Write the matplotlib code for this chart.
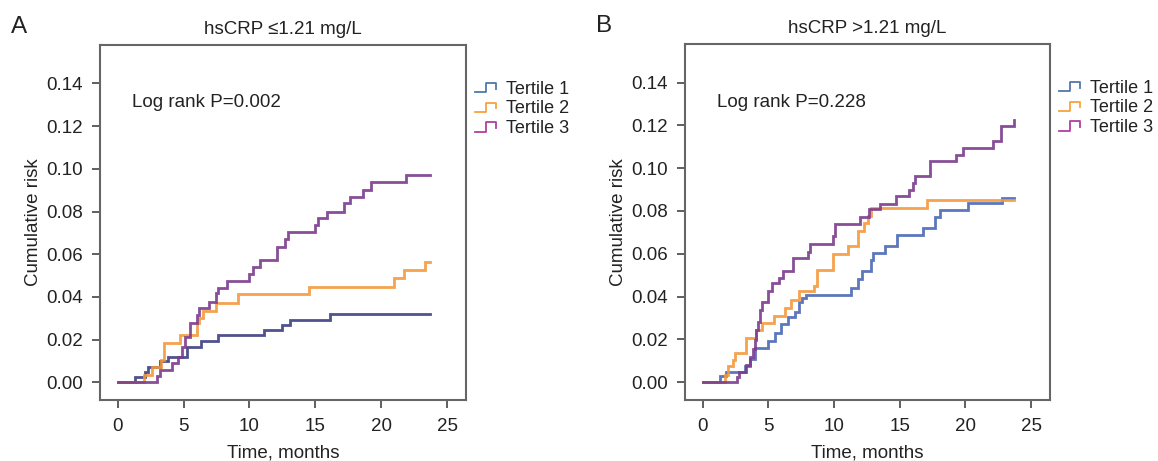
import matplotlib.pyplot as plt
from matplotlib.lines import Line2D
from matplotlib.legend_handler import HandlerBase

plt.rcParams['font.family'] = ['Liberation Sans', 'DejaVu Sans']

# ---- data ----
labels = ['Tertile 1', 'Tertile 2', 'Tertile 3']

# panel A: hsCRP <= 1.21 mg/L
a_t1_time = [0, 1.3, 2.1, 2.3, 3.2, 3.8, 5.3, 6.3, 7.6, 11.1, 12.5, 13.1, 16.1, 23.7]
a_t1_risk = [0, 0.0025, 0.0048, 0.007, 0.0098, 0.012, 0.0166, 0.0193, 0.022, 0.0244, 0.0268, 0.029, 0.0318, 0.0318]
a_t2_time = [0, 2.0, 2.6, 3.3, 3.5, 4.7, 6.0, 6.2, 6.5, 7.5, 9.1, 14.5, 21.0, 21.7, 23.3, 23.7]
a_t2_risk = [0, 0.0032, 0.0072, 0.0106, 0.0184, 0.0223, 0.028, 0.030, 0.0335, 0.0373, 0.0413, 0.0448, 0.0487, 0.0526, 0.0565, 0.0565]
a_t3_time = [0, 3.0, 3.2, 4.1, 4.6, 4.9, 5.1, 5.5, 6.0, 6.2, 6.9, 7.5, 7.6, 8.3, 10.0, 10.3, 10.8,
             12.1, 12.7, 12.9, 15.0, 15.2, 15.9, 17.2, 17.6, 18.6, 19.2, 21.9, 23.7]
a_t3_risk = [0, 0.0028, 0.0056, 0.0088, 0.0119, 0.0166, 0.0213, 0.0279, 0.0315, 0.0346, 0.0377, 0.0417, 0.044,
             0.0474, 0.0506, 0.0538, 0.0573, 0.0636, 0.0672, 0.0706, 0.0738, 0.0769, 0.080, 0.084, 0.087,
             0.090, 0.0936, 0.0972, 0.0972]

# panel B: hsCRP > 1.21 mg/L
b_t1_time = [0, 1.3, 1.8, 3.2, 3.6, 4.0, 5.0, 5.5, 6.0, 6.5, 7.0, 7.3, 7.6, 7.9, 11.3, 11.8, 12.1,
             12.8, 13.0, 13.9, 14.8, 16.8, 17.7, 18.1, 20.2, 22.8, 23.7]
b_t1_risk = [0, 0.0028, 0.0049, 0.0075, 0.011, 0.016, 0.0193, 0.0232, 0.0271, 0.0304, 0.033, 0.0373, 0.0393,
             0.0409, 0.044, 0.0482, 0.0521, 0.0573, 0.0605, 0.0636, 0.069, 0.0722, 0.0774, 0.0803, 0.0835,
             0.086, 0.086]
b_t2_time = [0, 1.7, 1.95, 2.3, 2.5, 3.3, 4.1, 4.5, 5.4, 6.3, 6.7, 7.3, 8.5, 8.7, 9.9, 11.1, 11.8,
             12.3, 12.6, 12.8, 17.1, 23.7]
b_t2_risk = [0, 0.0033, 0.0075, 0.0106, 0.0138, 0.0205, 0.0244, 0.0276, 0.031, 0.0346, 0.0385, 0.0424,
             0.0451, 0.0526, 0.0597, 0.0636, 0.0706, 0.0746, 0.0777, 0.0816, 0.0852, 0.0852]
b_t3_time = [0, 2.6, 2.8, 3.3, 3.6, 3.8, 3.95, 4.1, 4.2, 4.4, 4.5, 4.95, 5.3, 5.8, 6.15, 6.9, 8.0,
             8.2, 9.9, 10.1, 12.0, 12.7, 13.5, 14.7, 15.7, 16.0, 16.2, 17.3, 19.3, 19.8, 22.1, 22.7, 23.7]
b_t3_risk = [0, 0.0025, 0.0049, 0.008, 0.0119, 0.0154, 0.0197, 0.0244, 0.0283, 0.0338, 0.0373, 0.0424,
             0.0463, 0.0487, 0.0518, 0.0581, 0.0607, 0.0644, 0.0683, 0.0738, 0.0774, 0.0808, 0.0832,
             0.0868, 0.090, 0.0933, 0.0965, 0.1035, 0.1062, 0.1093, 0.1129, 0.1195, 0.1223]

a_colors = ['#3d3f82', '#f5993a', '#7b3b8c']
b_colors = ['#4a68b4', '#f5993a', '#7b3b8c']
legend_colors = ['#4f78ad', '#f5a23c', '#b0409f']

FS = 13.5


class StepHandler(HandlerBase):
    # draws the little step glyph used in the legend
    def create_artists(self, legend, orig_handle, xdescent, ydescent, width, height, fontsize, trans):
        x0 = -xdescent
        y0 = -ydescent
        xs = [x0, x0 + 0.45 * width, x0 + 0.45 * width, x0 + 0.9 * width, x0 + 0.9 * width]
        ys = [y0 + 0.1 * height, y0 + 0.1 * height, y0 + 0.85 * height, y0 + 0.85 * height, y0 + 0.4 * height]
        line = Line2D(xs, ys, color=orig_handle.get_color(), lw=1.3, transform=trans)
        return [line]


fig = plt.figure(figsize=(11.58, 4.61), dpi=100)
ax_a = fig.add_axes([100 / 1158, 1 - 400 / 461, 366 / 1158, 355 / 461])
ax_b = fig.add_axes([685 / 1158, 1 - 400 / 461, 365 / 1158, 356 / 461])

panels = [
    (ax_a, 'A', 'hsCRP \u22641.21 mg/L', 'Log rank P=0.002', a_colors,
     [(a_t1_time, a_t1_risk), (a_t2_time, a_t2_risk), (a_t3_time, a_t3_risk)]),
    (ax_b, 'B', 'hsCRP >1.21 mg/L', 'Log rank P=0.228', b_colors,
     [(b_t1_time, b_t1_risk), (b_t2_time, b_t2_risk), (b_t3_time, b_t3_risk)]),
]

for ax, letter, title, ptext, colors, curves in panels:
    for (t, r), c in zip(curves, colors):
        ax.step(t, r, where='post', color=c, lw=2.0, alpha=0.9, solid_joinstyle='miter')
    ax.set_xlim(-1.34, 26.44)
    ax.set_ylim(-0.0083, 0.158)
    ax.set_xticks([0, 5, 10, 15, 20, 25])
    ax.set_yticks([0, 0.02, 0.04, 0.06, 0.08, 0.10, 0.12, 0.14])
    ax.set_yticklabels(['%.2f' % v for v in ax.get_yticks()])
    ax.tick_params(labelsize=FS, length=5.5, width=1.2, color='#444444', labelcolor='#222222')
    ax.tick_params(axis='x', pad=7.5)
    ax.tick_params(axis='y', pad=7)
    for sp in ax.spines.values():
        sp.set_color('#666666')
        sp.set_linewidth(1.5)
    ax.set_xlabel('Time, months', fontsize=FS, color='#222222', labelpad=7)
    ax.set_ylabel('Cumulative risk', fontsize=FS, color='#222222', labelpad=3)
    ax.set_title(title, fontsize=FS, color='#222222', pad=8)
    ax.text(0.088, 0.837, ptext, transform=ax.transAxes, fontsize=FS, color='#222222', va='center')
    ax.text(-0.243, 1.05, letter, transform=ax.transAxes, fontsize=17.5, color='#222222', va='center')

    handles = [Line2D([], [], color=c) for c in legend_colors]
    ax.legend(handles, labels, handler_map={Line2D: StepHandler()}, loc='upper left',
              bbox_to_anchor=(1.005, 0.92), frameon=False, fontsize=13, handlelength=1.3,
              handletextpad=0.4, labelspacing=0.15, borderaxespad=0, labelcolor='#222222')

fig.savefig('out.png', dpi=100)
